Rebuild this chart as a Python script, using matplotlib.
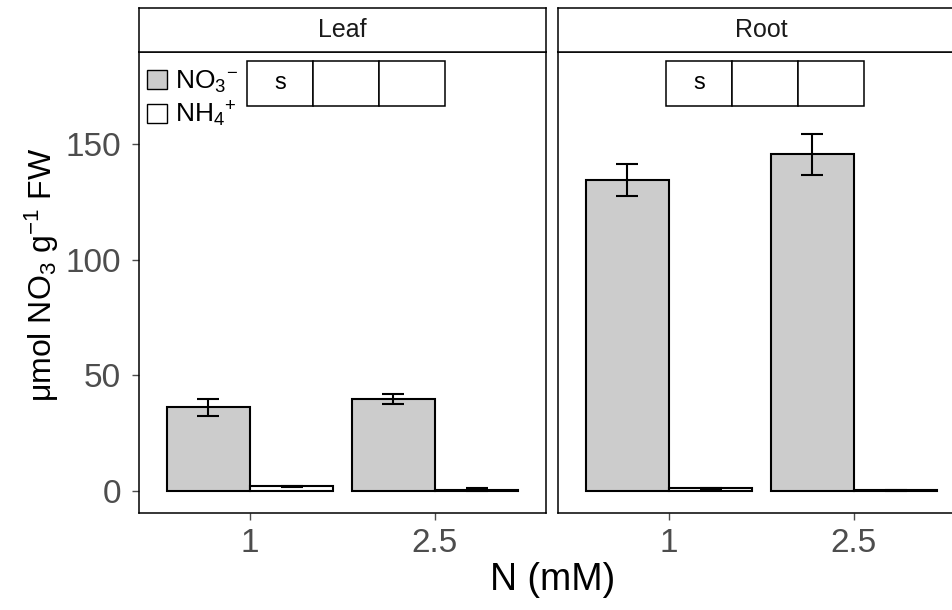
import matplotlib.pyplot as plt
from matplotlib.patches import Patch
import numpy as np

plt.rcParams["font.family"] = ["Liberation Sans", "DejaVu Sans"]
plt.rcParams["mathtext.fontset"] = "custom"
plt.rcParams["mathtext.rm"] = "Liberation Sans"
plt.rcParams["mathtext.it"] = "Liberation Sans:italic"

# nitrate / ammonium content, mean and SE per N level
levels = ["1", "2.5"]
tissues = ["Leaf", "Root"]
no3_mean = {"Leaf": [36.3, 39.8], "Root": [134.4, 145.6]}
no3_se = {"Leaf": [3.7, 2.3], "Root": [6.9, 8.9]}
nh4_mean = {"Leaf": [2.0, 0.5], "Root": [1.2, 0.3]}
nh4_se = {"Leaf": [0.2, 0.6], "Root": [0.2, 0.2]}
sig_row = ["s", "", ""]

W, H = 953, 610
fig = plt.figure(figsize=(W / 100, H / 100), dpi=100)

panel_x = [139, 558]
panel_w = 407
panel_top, panel_bot = 52, 513
strip_top = 8

grey = "#4D4D4D"
x = np.arange(1, len(levels) + 1)
bw = 0.45

for i, tissue in enumerate(tissues):
    ax = fig.add_axes([panel_x[i] / W, (H - panel_bot) / H,
                       panel_w / W, (panel_bot - panel_top) / H])
    ax.bar(x - bw / 2, no3_mean[tissue], width=bw, color="#CCCCCC",
           edgecolor="black", linewidth=1.5, zorder=2)
    ax.bar(x + bw / 2, nh4_mean[tissue], width=bw, color="white",
           edgecolor="black", linewidth=1.5, zorder=2)
    ax.errorbar(x - bw / 2, no3_mean[tissue], yerr=no3_se[tissue], fmt="none",
                ecolor="black", elinewidth=1.5, capsize=8, capthick=1.5, zorder=3)
    ax.errorbar(x + bw / 2, nh4_mean[tissue], yerr=nh4_se[tissue], fmt="none",
                ecolor="black", elinewidth=1.5, capsize=8, capthick=1.5, zorder=3)

    ax.set_xlim(0.4, 2.6)
    ax.set_ylim(-9.5, 189.8)
    ax.set_xticks(x)
    ax.set_xticklabels(levels)
    ax.set_yticks([0, 50, 100, 150])
    ax.tick_params(axis="both", labelsize=24, colors=grey, length=5,
                   width=1, labelcolor=grey)
    ax.tick_params(axis="y", pad=8)
    ax.tick_params(axis="x", pad=6)
    for s in ax.spines.values():
        s.set_linewidth(1.1)
        s.set_color("black")
    if i == 0:
        ax.legend(handles=[Patch(facecolor="#CCCCCC", edgecolor="black", lw=1.0,
                                 label="NO$_3$$^{-}$"),
                           Patch(facecolor="white", edgecolor="black", lw=1.0,
                                 label="NH$_4$$^{+}$")],
                  loc="upper left", bbox_to_anchor=(-0.01, 0.99), frameon=False,
                  fontsize=19, handlelength=0.75, handleheight=0.75,
                  handletextpad=0.3, labelspacing=0.2, borderaxespad=0.25,
                  borderpad=0.2)
    else:
        ax.tick_params(axis="y", left=False, labelleft=False)

    # significance row
    tbl = ax.table(cellText=[sig_row], cellLoc="center",
                   bbox=[0.265, 0.8829, 0.4865, 0.0976])
    tbl.auto_set_font_size(False)
    tbl.set_fontsize(17)
    for cell in tbl.get_celld().values():
        cell.set_linewidth(1.1)
        cell.set_edgecolor("black")

    # facet strip
    sax = fig.add_axes([panel_x[i] / W, (H - panel_top) / H,
                        panel_w / W, (panel_top - strip_top) / H])
    sax.set_xticks([])
    sax.set_yticks([])
    for s in sax.spines.values():
        s.set_linewidth(1.1)
    sax.text(0.5, 0.5, tissue, ha="center", va="center", fontsize=18,
             color="#1A1A1A", transform=sax.transAxes)

fig.text(42 / W, 1 - 275 / H, "μmol NO$_3$ g$^{-1}$ FW", rotation=90,
         ha="center", va="center", fontsize=23)
fig.text(553 / W, 1 - 580 / H, "N (mM)", ha="center", va="center", fontsize=27)

fig.savefig("out.png", dpi=100)
